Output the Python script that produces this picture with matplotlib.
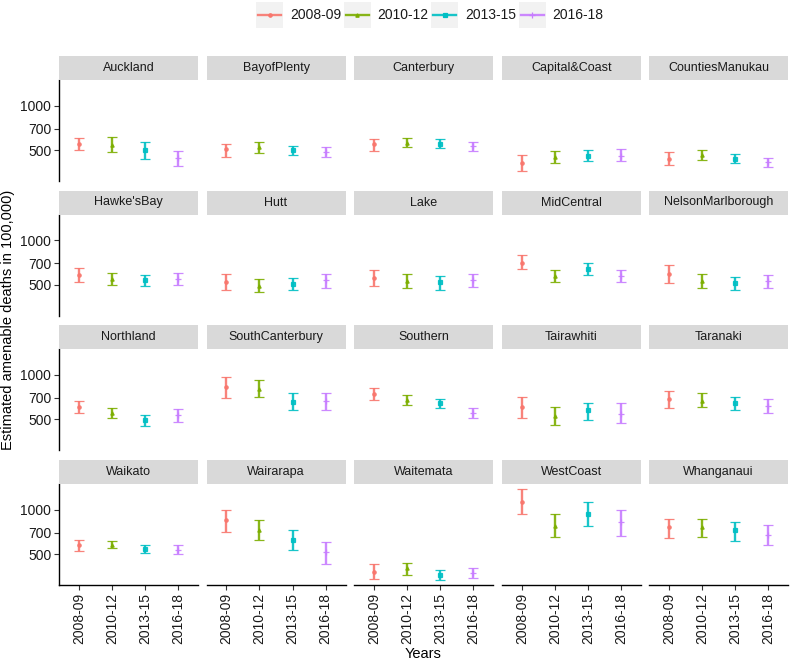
import numpy as np
import matplotlib
matplotlib.use("Agg")
import matplotlib.pyplot as plt
from matplotlib.patches import Rectangle
from matplotlib.lines import Line2D
from matplotlib.ticker import FixedLocator, NullLocator

plt.rcParams['font.family'] = ['Liberation Sans', 'DejaVu Sans']

periods = ["2008-09", "2010-12", "2013-15", "2016-18"]
colors = ["#F8766D", "#7CAE00", "#00BFC4", "#C77CFF"]
markers = ["o", "^", "s", "+"]

regions = ["Auckland", "BayofPlenty", "Canterbury", "Capital&Coast", "CountiesManukau",
           "Hawke'sBay", "Hutt", "Lake", "MidCentral", "NelsonMarlborough",
           "Northland", "SouthCanterbury", "Southern", "Tairawhiti", "Taranaki",
           "Waikato", "Wairarapa", "Waitemata", "WestCoast", "Whanganaui"]

# estimate per region, one value per period
est = [[548, 540, 500, 440], [505, 522, 497, 487], [546, 560, 554, 532],
       [411, 451, 456, 456], [437, 461, 437, 413],
       [580, 546, 534, 546], [524, 492, 508, 534], [557, 529, 518, 540],
       [705, 574, 637, 568], [592, 529, 513, 529],
       [602, 548, 495, 532], [819, 794, 653, 659], [739, 673, 640, 554],
       [602, 526, 572, 542], [680, 667, 640, 614],
       [574, 580, 540, 534], [848, 723, 623, 513], [381, 400, 362, 370],
       [1131, 774, 930, 822], [758, 758, 723, 675]]

low = [[500, 487, 438, 391], [451, 480, 461, 449], [494, 521, 516, 494],
       [360, 411, 420, 420], [395, 429, 407, 387],
       [518, 497, 487, 497], [458, 447, 458, 473], [487, 477, 463, 482],
       [637, 524, 580, 518], [513, 477, 463, 477],
       [548, 511, 451, 480], [694, 701, 572, 572], [673, 620, 596, 511],
       [506, 456, 495, 470], [596, 602, 577, 554],
       [524, 546, 508, 497], [705, 623, 534, 431], [337, 362, 332, 346],
       [930, 650, 770, 663], [643, 650, 617, 580]]

high = [[608, 613, 566, 494], [554, 566, 532, 526], [595, 602, 595, 571],
        [466, 494, 500, 505], [485, 500, 470, 442],
        [646, 599, 580, 599], [592, 546, 557, 592], [630, 586, 574, 592],
        [790, 630, 698, 624], [677, 592, 563, 580],
        [667, 596, 532, 589], [965, 916, 746, 746], [810, 731, 688, 596],
        [701, 608, 647, 640], [777, 746, 710, 680],
        [623, 617, 574, 574], [1000, 848, 727, 604], [426, 435, 391, 400],
        [1388, 930, 1119, 1000], [866, 866, 822, 781]]

yticks = [500, 700, 1000]

W, H = 790, 664
fig = plt.figure(figsize=(W / 100, H / 100), dpi=100)


def rect(l, t, w, h):
    return [l / W, 1 - (t + h) / H, w / W, h / H]


def msize(m):
    return 5 if m == "+" else 2.4


col_left = [59, 206.5, 354, 502, 649]
row_top = [80, 214.5, 349, 484]
pw, ph, sh = 139, 101, 24

for k, reg in enumerate(regions):
    r, c = divmod(k, 5)
    ax = fig.add_axes(rect(col_left[c], row_top[r], pw, ph))
    for i in range(4):
        e, lo, hi = est[k][i], low[k][i], high[k][i]
        ax.errorbar([i + 1], [e], yerr=[[e - lo], [hi - e]], color=colors[i],
                    ecolor=colors[i], elinewidth=1.7, capsize=3.6, capthick=1.7,
                    fmt=markers[i], markersize=msize(markers[i]),
                    markeredgewidth=0.9, alpha=0.9)
    ax.set_yscale("log")
    ax.set_ylim(309, 1490)
    ax.set_xlim(0.4, 4.6)
    ax.yaxis.set_major_locator(FixedLocator(yticks))
    ax.yaxis.set_minor_locator(NullLocator())
    ax.set_yticklabels([str(v) for v in yticks])
    ax.set_xticks(range(1, 5))
    ax.set_xticklabels(periods, rotation=90)
    for s in ["top", "right"]:
        ax.spines[s].set_visible(False)
    ax.spines["left"].set_visible(c == 0)
    ax.spines["bottom"].set_visible(r == 3)
    ax.spines["left"].set_linewidth(1.0)
    ax.spines["bottom"].set_linewidth(1.0)
    ax.tick_params(axis="y", left=(c == 0), labelleft=(c == 0), length=3.5,
                   width=0.8, color="#333333", labelsize=10, labelcolor="#1A1A1A", pad=2)
    ax.tick_params(axis="x", bottom=(r == 3), labelbottom=(r == 3), length=3.5,
                   width=0.8, color="#333333", labelsize=10, labelcolor="#1A1A1A", pad=2)
    ax.patch.set_alpha(0)

    sax = fig.add_axes(rect(col_left[c], row_top[r] - sh, pw, sh))
    sax.set_facecolor("#D9D9D9")
    sax.set_xticks([])
    sax.set_yticks([])
    for s in sax.spines.values():
        s.set_visible(False)
    sax.text(0.5, 0.5, reg, ha="center", va="center", fontsize=9, color="#1A1A1A",
             transform=sax.transAxes)

fig.text(8 / W, 1 - 320 / H, "Estimated amenable deaths in 100,000)", rotation=90,
         ha="center", va="center", fontsize=10.5, color="black")
fig.text(423 / W, 1 - 654 / H, "Years", ha="center", va="center", fontsize=10.5,
         color="black")

# legend along the top
key_x = [256, 343.5, 431, 518.5]
for i, p in enumerate(periods):
    x0 = key_x[i]
    fig.add_artist(Rectangle((x0 / W, 1 - 28 / H), 27 / W, 26 / H,
                             transform=fig.transFigure, facecolor="#F2F2F2",
                             edgecolor="none"))
    fig.add_artist(Line2D([(x0 + 2) / W, (x0 + 25) / W], [1 - 15 / H, 1 - 15 / H],
                          transform=fig.transFigure, color=colors[i], linewidth=1.7,
                          alpha=0.9))
    fig.add_artist(Line2D([(x0 + 13.5) / W], [1 - 15 / H], transform=fig.transFigure,
                          color=colors[i], marker=markers[i],
                          markersize=msize(markers[i]),
                          markeredgewidth=0.9, linestyle="none"))
    fig.text((x0 + 34) / W, 1 - 15 / H, p, ha="left", va="center", fontsize=10,
             color="#1A1A1A")

fig.savefig("out.png", dpi=100)
